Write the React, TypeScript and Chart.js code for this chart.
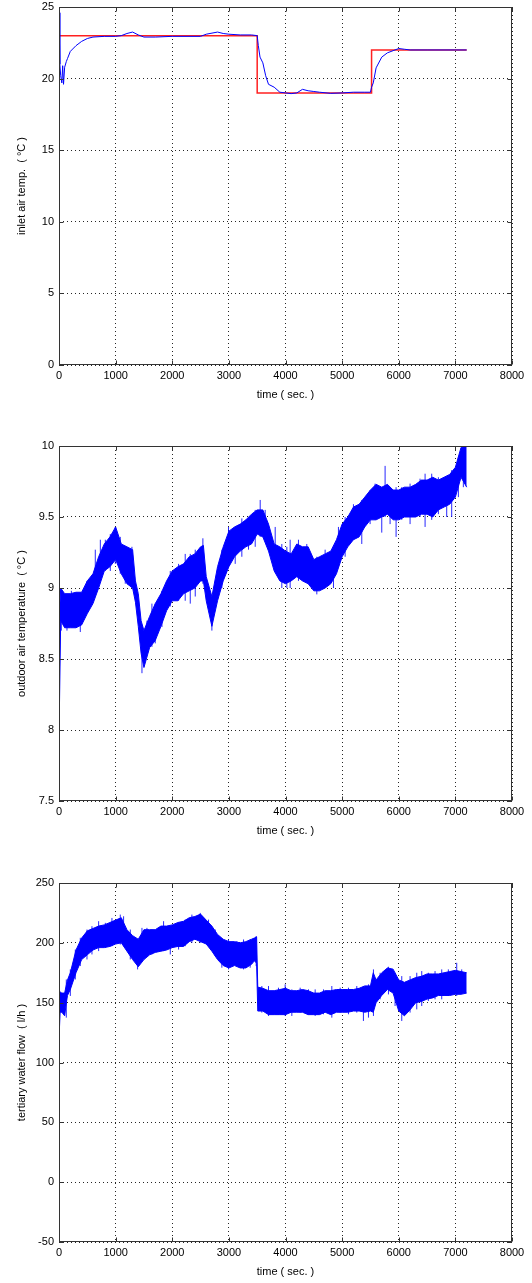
import React, { useEffect, useRef } from "react";
import { Chart, registerables } from "chart.js";

Chart.register(...registerables);

// ---------- data ----------
const xTicks = [0, 1000, 2000, 3000, 4000, 5000, 6000, 7000, 8000];

// plot 1 : inlet air temperature (measured) and its set-point
const inletTime = [0, 15, 30, 50, 65, 80, 100, 130, 150, 200, 300, 400, 500, 600, 800, 1000, 1100, 1200, 1300, 1400, 1500, 1700, 2000, 2500, 2600, 2800, 2900, 3000, 3200, 3400, 3500, 3520, 3550, 3600, 3650, 3700, 3800, 3900, 4000, 4100, 4200, 4300, 4400, 4500, 4600, 4800, 5000, 5200, 5400, 5500, 5520, 5550, 5600, 5700, 5800, 5900, 6000, 6100, 6200, 6500, 7000, 7200];
const inletTemp = [24.6, 21.0, 20.2, 19.7, 20.9, 19.6, 20.8, 21.2, 21.4, 21.9, 22.3, 22.6, 22.8, 22.9, 22.95, 22.95, 23.0, 23.15, 23.25, 23.05, 22.9, 22.9, 22.95, 22.95, 23.1, 23.25, 23.15, 23.1, 23.05, 23.05, 23.0, 22.3, 21.5, 21.1, 20.2, 19.6, 19.4, 19.05, 19.0, 18.95, 19.0, 19.25, 19.15, 19.1, 19.05, 18.97, 19.0, 19.05, 19.05, 19.05, 19.4, 19.7, 20.75, 21.5, 21.8, 21.95, 22.1, 22.05, 22.0, 22.0, 22.0, 22.0];
const setpointTime = [0, 3500, 3500, 5520, 5520, 7200];
const setpointTemp = [23, 23, 19, 19, 22, 22];
const inletTicks = [0, 5, 10, 15, 20, 25];

// plot 2 : outdoor air temperature (noise band: high / low envelope, plus spikes)
const outdoorTime = [0, 30, 100, 200, 300, 400, 500, 600, 700, 800, 900, 1000, 1100, 1200, 1300, 1350, 1400, 1450, 1500, 1600, 1700, 1800, 1900, 2000, 2100, 2200, 2300, 2400, 2500, 2550, 2600, 2700, 2800, 2900, 3000, 3100, 3200, 3300, 3400, 3500, 3600, 3700, 3800, 3900, 4000, 4100, 4200, 4300, 4400, 4500, 4600, 4700, 4800, 4900, 5000, 5100, 5200, 5300, 5400, 5500, 5600, 5700, 5800, 5900, 6000, 6100, 6200, 6300, 6400, 6500, 6600, 6700, 6800, 6900, 7000, 7100, 7200];
const outdoorHigh = [8.75, 9.0, 8.96, 8.96, 8.97, 8.97, 9.05, 9.1, 9.22, 9.31, 9.36, 9.43, 9.31, 9.29, 9.27, 9.05, 8.96, 8.77, 8.7, 8.8, 8.89, 8.96, 9.05, 9.12, 9.15, 9.17, 9.22, 9.24, 9.29, 9.3, 9.08, 8.94, 9.15, 9.29, 9.4, 9.43, 9.45, 9.48, 9.52, 9.55, 9.55, 9.45, 9.31, 9.29, 9.26, 9.24, 9.31, 9.29, 9.29, 9.2, 9.22, 9.24, 9.26, 9.34, 9.45, 9.5, 9.57, 9.59, 9.64, 9.69, 9.73, 9.71, 9.73, 9.69, 9.69, 9.71, 9.71, 9.73, 9.76, 9.76, 9.78, 9.76, 9.78, 9.8, 9.85, 9.99, 10.0];
const outdoorLow = [7.95, 8.77, 8.72, 8.72, 8.72, 8.74, 8.82, 8.89, 9.0, 9.12, 9.15, 9.2, 9.1, 9.03, 9.0, 8.9, 8.73, 8.54, 8.44, 8.58, 8.63, 8.73, 8.84, 8.91, 8.91, 8.96, 8.98, 9.0, 9.05, 9.05, 8.91, 8.73, 8.91, 9.05, 9.15, 9.22, 9.26, 9.29, 9.31, 9.38, 9.36, 9.26, 9.12, 9.05, 9.03, 9.05, 9.08, 9.05, 9.03, 8.98, 8.98, 9.0, 9.03, 9.1, 9.22, 9.29, 9.34, 9.36, 9.43, 9.48, 9.48, 9.5, 9.52, 9.48, 9.48, 9.5, 9.5, 9.5, 9.52, 9.52, 9.5, 9.55, 9.57, 9.59, 9.64, 9.78, 9.71];
const outdoorSpikeTime = [41, 141, 218, 300, 376, 494, 641, 730, 818, 906, 994, 1082, 1170, 1288, 1465, 1553, 1641, 1700, 1818, 1965, 2112, 2229, 2318, 2406, 2541, 2700, 2876, 2994, 3112, 3229, 3347, 3465, 3553, 3641, 3818, 3935, 4024, 4082, 4229, 4376, 4553, 4700, 4847, 4935, 5053, 5200, 5347, 5494, 5582, 5700, 5759, 5847, 5953, 6053, 6200, 6376, 6465, 6582, 6700, 6847, 6935, 7053, 7141];
const outdoorSpikeLow = [8.70, 8.70, 8.725, 8.75, 8.69, 8.82, 9.0, 9.05, 9.12, 9.12, 9.17, 9.1, 9.03, 9.0, 8.40, 8.54, 8.585, 8.61, 8.725, 8.87, 8.91, 8.91, 8.89, 8.94, 9.03, 8.70, 9.0, 9.15, 9.17, 9.22, 9.27, 9.29, 9.36, 9.34, 9.17, 9.0, 9.0, 9.0, 9.05, 9.05, 8.955, 9.0, 9.0, 9.15, 9.22, 9.34, 9.31, 9.45, 9.48, 9.39, 9.5, 9.45, 9.36, 9.48, 9.45, 9.5, 9.43, 9.48, 9.52, 9.5, 9.5, 9.64, 9.71];
const outdoorSpikeHigh = [9.0, 8.91, 8.98, 8.91, 8.94, 9.05, 9.27, 9.34, 9.34, 9.38, 9.43, 9.36, 9.29, 9.29, 8.73, 8.77, 8.89, 8.89, 8.98, 9.12, 9.17, 9.24, 9.24, 9.27, 9.35, 8.91, 9.27, 9.43, 9.43, 9.49, 9.48, 9.55, 9.62, 9.55, 9.43, 9.31, 9.29, 9.34, 9.34, 9.31, 9.22, 9.27, 9.27, 9.43, 9.5, 9.59, 9.62, 9.69, 9.735, 9.71, 9.86, 9.71, 9.71, 9.71, 9.735, 9.77, 9.805, 9.805, 9.78, 9.78, 9.83, 9.92, 10.0];
const outdoorTicks = [7.5, 8, 8.5, 9, 9.5, 10];

// plot 3 : tertiary water flow (noise band: high / low envelope, plus spikes)
const flowTime = [0, 20, 50, 100, 130, 150, 200, 300, 400, 500, 600, 700, 800, 900, 1000, 1100, 1200, 1300, 1400, 1500, 1600, 1700, 1800, 1900, 2000, 2100, 2200, 2300, 2400, 2500, 2600, 2700, 2800, 2900, 3000, 3100, 3200, 3300, 3400, 3450, 3490, 3510, 3600, 3700, 3800, 3900, 4000, 4100, 4200, 4300, 4400, 4500, 4600, 4700, 4800, 4900, 5000, 5100, 5200, 5300, 5400, 5500, 5550, 5600, 5700, 5800, 5900, 6000, 6100, 6200, 6300, 6400, 6500, 6600, 6700, 6800, 6900, 7000, 7100, 7200];
const flowHigh = [158, 159, 158, 158, 165, 169, 175, 194, 204, 210, 212, 214, 215, 217, 219, 221, 211, 206, 203, 211, 211, 211, 214, 214, 215, 217, 218, 221, 222, 224, 219, 214, 207, 203, 201, 201, 200, 201, 203, 204, 205, 163, 162, 160, 160, 161, 162, 160, 160, 161, 160, 158, 158, 160, 160, 161, 161, 161, 161, 162, 164, 164, 175, 169, 175, 179, 178, 169, 167, 169, 171, 172, 174, 174, 174, 175, 176, 177, 176, 175];
const flowLow = [120, 142, 142, 139, 150, 156, 161, 175, 186, 190, 194, 196, 196, 197, 199, 200, 193, 186, 180, 186, 190, 192, 193, 194, 196, 197, 197, 201, 203, 201, 199, 193, 186, 181, 179, 181, 179, 179, 182, 185, 183, 143, 143, 140, 140, 140, 140, 142, 142, 142, 140, 140, 140, 142, 140, 142, 142, 142, 143, 143, 142, 143, 142, 150, 156, 161, 158, 143, 139, 144, 150, 151, 153, 154, 156, 156, 156, 157, 157, 158];
const flowSpikeTime = [129, 200, 288, 376, 494, 582, 700, 818, 935, 1082, 1141, 1259, 1388, 1465, 1553, 1641, 1847, 1965, 2112, 2229, 2347, 2494, 2641, 2759, 2876, 2994, 3141, 3259, 3376, 3482, 3582, 3700, 3876, 3994, 4112, 4259, 4406, 4524, 4671, 4818, 4965, 5112, 5259, 5376, 5465, 5553, 5671, 5818, 5935, 6053, 6200, 6318, 6406, 6523, 6641, 6759, 6876, 7024, 7112];
const flowSpikeLow = [137.5, 155.6, 169.4, 180.6, 186.1, 190.3, 193.1, 195.8, 197.2, 198.6, 197.2, 186.1, 177.8, 186.1, 188.9, 190.3, 193.1, 190.3, 194.4, 197.2, 200, 200, 197.2, 188.9, 179.2, 177.8, 180.6, 177.8, 179.2, 180.6, 141.7, 138.9, 140.3, 138.9, 138.9, 141.7, 140.3, 138.9, 140.3, 137.5, 141.7, 140.3, 141.7, 134.7, 137.5, 138.9, 152.8, 156.9, 147.2, 134.7, 141.7, 144.4, 147.2, 151.4, 152.8, 152.8, 155.6, 155.6, 158.3];
const flowSpikeHigh = [169.4, 177.8, 194.4, 204.2, 211.1, 213.9, 218.1, 216.7, 220.8, 223.6, 222.2, 211.1, 200, 212.5, 212.5, 211.1, 218.1, 213.9, 216.7, 219.4, 223.6, 225, 219.4, 211.1, 202.8, 202.8, 201.4, 202.8, 202.8, 205.6, 163.9, 163.9, 162.5, 165.3, 161.1, 162.5, 161.1, 161.1, 161.1, 163.9, 162.5, 162.5, 163.9, 163.9, 165.3, 177.8, 175, 180, 175, 172.2, 172.2, 175, 176.4, 175, 176.4, 177.8, 177.8, 183.3, 177.8];
const flowTicks = [-50, 0, 50, 100, 150, 200, 250];

// ---------- helpers ----------
const FONT = "'Liberation Sans', Arial, Helvetica, sans-serif";
const BLUE = "#0000ff";
const pts = (xs: number[], ys: number[]) => xs.map((x, i) => ({ x, y: ys[i] }));
const spikes = (ts: number[], lo: number[], hi: number[]) => {
  const out: { x: number; y: number | null }[] = [];
  ts.forEach((t, i) => {
    out.push({ x: t, y: lo[i] }, { x: t, y: hi[i] }, { x: t, y: null });
  });
  return out;
};

const boxPlugin = {
  id: "matlabBox",
  afterDatasetsDraw(chart: any) {
    const { ctx, chartArea: a, scales } = chart;
    const L = Math.round(a.left) + 0.5;
    const R = Math.round(a.right) - 0.5;
    const T = Math.round(a.top) + 0.5;
    const B = Math.round(a.bottom) - 0.5;
    ctx.save();
    ctx.strokeStyle = "#333";
    ctx.lineWidth = 1;
    ctx.setLineDash([]);
    ctx.beginPath();
    scales.x.ticks.forEach((t: any) => {
      const px = Math.round(scales.x.getPixelForValue(t.value)) + 0.5;
      ctx.moveTo(px, B); ctx.lineTo(px, B - 4);
      ctx.moveTo(px, T); ctx.lineTo(px, T + 4);
    });
    scales.y.ticks.forEach((t: any) => {
      const py = Math.round(scales.y.getPixelForValue(t.value)) + 0.5;
      ctx.moveTo(L, py); ctx.lineTo(L + 4, py);
      ctx.moveTo(R, py); ctx.lineTo(R - 4, py);
    });
    ctx.stroke();
    ctx.strokeRect(L, T, R - L, B - T);
    ctx.restore();
  },
};

function makeOptions(yTicks: number[], yTitle: string, padTop: number, padBottom: number) {
  return {
    responsive: false,
    animation: false as const,
    layout: { padding: { top: padTop, right: 20, bottom: padBottom, left: 0 } },
    plugins: { legend: { display: false }, tooltip: { enabled: false } },
    elements: { point: { radius: 0 } },
    scales: {
      x: {
        type: "linear" as const,
        min: xTicks[0],
        max: xTicks[xTicks.length - 1],
        afterBuildTicks: (s: any) => { s.ticks = xTicks.map((v) => ({ value: v })); },
        afterFit: (s: any) => { s.height = 40; s.paddingLeft = 0; s.paddingRight = 0; },
        grid: { color: "rgba(0,0,0,0.85)", lineWidth: 1, drawTicks: false },
        border: { display: false, dash: [1, 3] },
        ticks: { padding: 4, color: "#000", font: { family: FONT, size: 11 }, maxRotation: 0, autoSkip: false, callback: (v: any) => String(v) },
        title: { display: true, text: "time ( sec. )", color: "#000", font: { family: FONT, size: 11 }, padding: { top: 0, bottom: 3 } },
      },
      y: {
        type: "linear" as const,
        min: yTicks[0],
        max: yTicks[yTicks.length - 1],
        afterBuildTicks: (s: any) => { s.ticks = yTicks.map((v) => ({ value: v })); },
        afterFit: (s: any) => { s.width = 59; s.paddingTop = 0; s.paddingBottom = 0; },
        grid: { color: "rgba(0,0,0,0.85)", lineWidth: 1, drawTicks: false },
        border: { display: false, dash: [1, 3] },
        ticks: { padding: 5, color: "#000", font: { family: FONT, size: 11 }, autoSkip: false, callback: (v: any) => String(v) },
        title: { display: true, text: yTitle, color: "#000", font: { family: FONT, size: 11 }, padding: { top: 15, bottom: 0 } },
      },
    },
  };
}

function ChartCanvas({ config, top, height }: { config: () => any; top: number; height: number }) {
  const ref = useRef<HTMLCanvasElement | null>(null);
  useEffect(() => {
    if (!ref.current) return;
    const chart = new Chart(ref.current, config());
    return () => chart.destroy();
  }, []);
  return (
    <canvas
      ref={ref}
      width={532}
      height={height}
      style={{ position: "absolute", left: 0, top, width: 532, height, display: "block" }}
    />
  );
}

const inletConfig = () => ({
  type: "line",
  data: {
    datasets: [
      { data: pts(inletTime, inletTemp), borderColor: BLUE, borderWidth: 1, fill: false, tension: 0 },
      { data: pts(setpointTime, setpointTemp), borderColor: "#ff2020", borderWidth: 1.5, fill: false, tension: 0 },
    ],
  },
  options: makeOptions(inletTicks, "inlet air temp.  ( °C )", 7, 15),
  plugins: [boxPlugin],
});

const bandDatasets = (t: number[], lo: number[], hi: number[], st: number[], sl: number[], sh: number[]) => [
  { data: pts(t, lo), borderColor: BLUE, borderWidth: 1, fill: false, tension: 0 },
  { data: pts(t, hi), borderColor: BLUE, borderWidth: 1, fill: "-1", backgroundColor: BLUE, tension: 0 },
  { data: spikes(st, sl, sh), borderColor: "rgba(0,0,255,0.85)", borderWidth: 1, fill: false, spanGaps: false, tension: 0 },
];

const outdoorConfig = () => ({
  type: "line",
  data: { datasets: bandDatasets(outdoorTime, outdoorLow, outdoorHigh, outdoorSpikeTime, outdoorSpikeLow, outdoorSpikeHigh) },
  options: makeOptions(outdoorTicks, "outdoor air temperature  ( °C )", 26, 19),
  plugins: [boxPlugin],
});

const flowConfig = () => ({
  type: "line",
  data: { datasets: bandDatasets(flowTime, flowLow, flowHigh, flowSpikeTime, flowSpikeLow, flowSpikeHigh) },
  options: makeOptions(flowTicks, "tertiary water flow  ( l/h )", 23, 1),
  plugins: [boxPlugin],
});

export default function App() {
  return (
    <div style={{ position: "absolute", left: 0, top: 0, width: 532, height: 1283, background: "#fff" }}>
      <ChartCanvas config={inletConfig} top={0} height={420} />
      <ChartCanvas config={outdoorConfig} top={420} height={440} />
      <ChartCanvas config={flowConfig} top={860} height={423} />
    </div>
  );
}
